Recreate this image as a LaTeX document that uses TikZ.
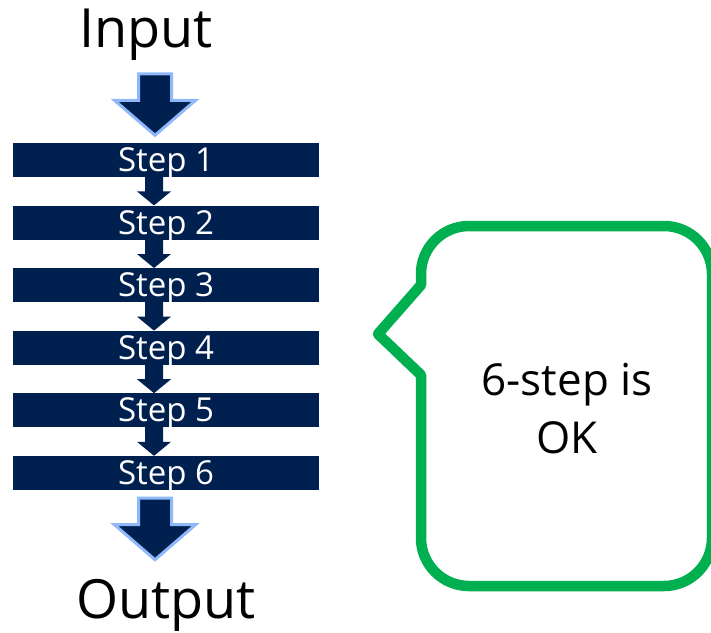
\documentclass[tikz,border=0pt]{standalone}
\usepackage{fontspec}
\setmainfont{Open Sans}
\usetikzlibrary{calc}
\definecolor{navy}{RGB}{0,32,80}
\definecolor{paleblue}{RGB}{142,184,250}
\definecolor{okgreen}{RGB}{0,176,80}
\tikzset{
  stepbar/.style={fill=navy, text=white, minimum width=306pt, minimum height=34pt,
    inner sep=0pt, text height=23pt, text depth=0pt, font=\fontsize{33}{33}\selectfont},
  bigtext/.style={inner sep=0pt, anchor=base, font=\fontsize{54}{54}\selectfont},
  bigarrow/.style={fill=navy, draw=paleblue, line width=3pt, line join=miter},
  callout/.style={draw=okgreen, line width=10.5pt, line join=round, fill=white},
}
% small arrow from the bottom of one bar into the top of the next
\newcommand\linkarrow[2]{%
  \fill[navy] ($(#1.south)+(-21,1)$) -- ($(#1.south)+(-3,1)$) -- ($(#2.north)+(-3,14)$)
    -- ($(#2.north)+(5,14)$) -- ($(#2.north)+(-12,0)$) -- ($(#2.north)+(-29,14)$)
    -- ($(#2.north)+(-21,14)$) -- cycle;}
% large outlined arrow with its tip at the given point
\newcommand\bigdown[1]{%
  \draw[bigarrow] ($(#1)+(-16.5,61.5)$) -- ($(#1)+(16.5,61.5)$) -- ($(#1)+(16.5,35)$)
    -- ($(#1)+(40.5,35)$) -- (#1) -- ($(#1)+(-40.5,35)$) -- ($(#1)+(-16.5,35)$) -- cycle;}
\begin{document}
\begin{tikzpicture}[x=1pt,y=1pt]
  \useasboundingbox (0,0) rectangle (711,-632);
  \clip (0,0) rectangle (711,-632);

  % the six steps
  \foreach \i in {1,...,6}{
    \node[stepbar] (s\i) at (166,{-160-62.6*(\i-1)}) {Step \i};
  }
  \foreach \a/\b in {s1/s2,s2/s3,s3/s4,s4/s5,s5/s6}{\linkarrow{\a}{\b}}

  % input and output
  \node[bigtext] (in) at (146,-47) {Input};
  \node[bigtext] (out) at (166,-618) {Output};
  \coordinate (intip) at ($(s1.north)+(-11,7.5)$);
  \coordinate (outtip) at ($(s6.south)+(-11,-69.5)$);
  \bigdown{intip}
  \bigdown{outtip}

  % speech bubble
  \draw[callout] (421,-285) -- (421,-274) arc[start angle=180, end angle=90, radius=48]
    -- (664,-226) arc[start angle=90, end angle=0, radius=48]
    -- (712,-538) arc[start angle=0, end angle=-90, radius=48]
    -- (469,-586) arc[start angle=270, end angle=180, radius=48]
    -- (421,-375) -- (378,-334) -- cycle;
  \node[align=center, inner sep=0pt, anchor=base, font=\fontsize{44}{58}\selectfont]
    (note) at (567,-453) {6-step is\\OK};
\end{tikzpicture}
\end{document}
